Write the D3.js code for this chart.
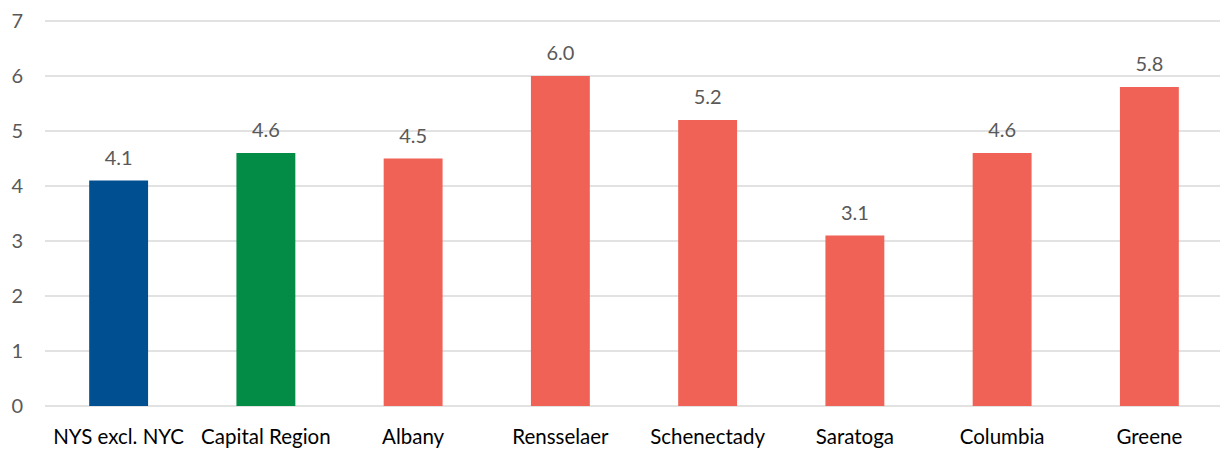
<!DOCTYPE html>
<html><head><meta charset="utf-8">
<script src="https://cdn.jsdelivr.net/npm/d3@7"></script>
<style>body{margin:0;background:#fff}svg{display:block}text{font-family:Lato,"Open Sans",sans-serif;fill:#595959}</style>
</head><body><svg id="c" width="1220" height="450"></svg>
<script>
const categories = ["NYS excl. NYC","Capital Region","Albany","Rensselaer","Schenectady","Saratoga","Columbia","Greene"];
const values = [4.1,4.6,4.5,6.0,5.2,3.1,4.6,5.8];
const colors = ["#004F90","#038C45","#F06255","#F06255","#F06255","#F06255","#F06255","#F06255"];
const yTicks = [0,1,2,3,4,5,6,7];

const svg = d3.select("#c");
const x = d3.scaleBand().domain(categories).range([45,1223]).paddingInner(0.6).paddingOuter(0.3);
const y = d3.scaleLinear().domain([0,7]).range([406,21]);

svg.append("g").selectAll("line").data(yTicks).join("line")
  .attr("x1",45).attr("x2",1220).attr("y1",d=>y(d)).attr("y2",d=>y(d))
  .attr("stroke","#D9D9D9").attr("stroke-width",1.5);

svg.append("g").selectAll("text").data(yTicks).join("text")
  .attr("x",23).attr("y",d=>y(d)).attr("dy","0.35em").attr("text-anchor","end")
  .attr("font-size",20).text(d=>d);

svg.append("g").selectAll("rect").data(values).join("rect")
  .attr("x",(d,i)=>x(categories[i])).attr("width",x.bandwidth())
  .attr("y",d=>y(d)).attr("height",d=>y(0)-y(d)).attr("fill",(d,i)=>colors[i]);

svg.append("g").selectAll("text").data(values).join("text")
  .attr("x",(d,i)=>x(categories[i])+x.bandwidth()/2).attr("y",d=>y(d)-16)
  .attr("text-anchor","middle").attr("font-size",20).text(d=>d.toFixed(1));

svg.append("g").selectAll("text").data(categories).join("text")
  .attr("x",d=>x(d)+x.bandwidth()/2).attr("y",437).attr("dy","0.35em")
  .attr("text-anchor","middle").attr("font-size",20.5).style("fill","#000").text(d=>d);
</script></body></html>
